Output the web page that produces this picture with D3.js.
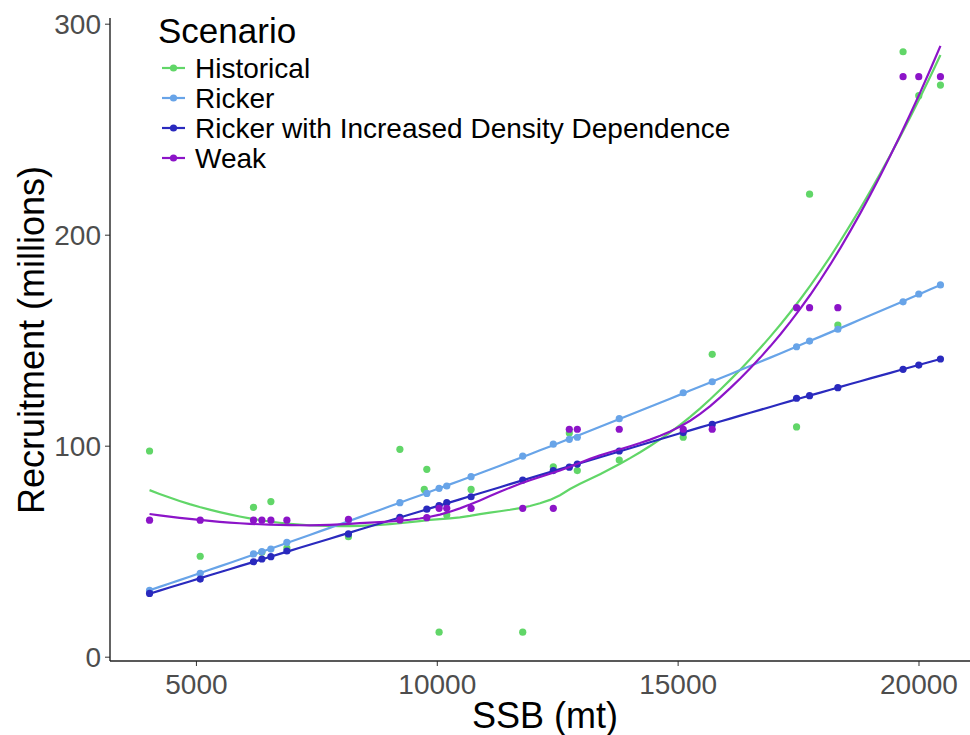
<!DOCTYPE html>
<html lang="en">
  <head>
    <meta charset="UTF-8" />
    <title>Recruitment vs SSB by Scenario</title>
    <script src="https://d3js.org/d3.v7.min.js"></script>
    <style>
      body {
        margin: 0;
        background: #ffffff;
      }
      text {
        font-family: 'Liberation Sans', Arial, sans-serif;
      }
      .tick text {
        fill: #4d4d4d;
        font-size: 28px;
      }
      .tick line {
        stroke: #333333;
      }
    </style>
  </head>
  <body>
    <div id="chart-container"></div>

    <script>
      // SSB values shared by the simulated scenarios
      const ssb = [
        4037, 5089, 6195, 6369, 6556, 6888, 8166, 9234, 9793, 10048,
        10207, 10712, 11784, 12419, 12751, 12917, 13788, 15116, 15718,
        17469, 17739, 18326, 19680, 20006, 20456,
      ];
      const ricker = [
        31.4, 39.5, 48.7, 49.8, 51.0, 54.2, 64.5, 73.0, 77.4, 79.8, 80.9,
        85.3, 95.1, 100.7, 103.0, 104.0, 112.8, 125.1, 130.3, 146.9, 149.6,
        155.2, 168.2, 171.9, 176.2,
      ];
      const rickerIDD = [
        30.0, 36.8, 45.0, 46.3, 47.4, 50.1, 58.2, 66.1, 69.9, 71.6, 73.0,
        75.8, 83.7, 88.2, 89.8, 91.3, 97.5, 106.2, 110.1, 122.5, 123.7,
        127.5, 136.2, 138.2, 141.1,
      ];
      const weak = [
        64.7, 64.7, 64.7, 64.7, 64.7, 64.7, 65.1, 64.8, 65.9, 70.3, 70.3,
        70.3, 70.3, 70.3, 107.8, 107.8, 107.8, 107.8, 107.8, 165.4, 165.4,
        165.4, 274.9, 274.9, 274.9,
      ];
      // observed (historical) pairs
      const histSsb = [
        4037, 5089, 6195, 6369, 6556, 6888, 8166, 9234, 9740, 9793, 10048,
        10207, 10712, 11784, 12419, 12751, 12917, 13788, 15116, 15718,
        17469, 17739, 18326, 19680, 20006, 20456,
      ];
      const historical = [
        97.5, 47.6, 70.8, 49.5, 73.5, 51.5, 56.9, 98.3, 79.3, 88.8, 11.6,
        67.2, 79.3, 11.6, 90.0, 106.0, 88.2, 93.2, 104.0, 143.3, 108.9,
        219.2, 157.2, 286.7, 265.9, 270.9,
      ];

      const scenarios = [
        'Historical',
        'Ricker',
        'Ricker with Increased Density Dependence',
        'Weak',
      ];
      const colors = ['#61d668', '#68a4e8', '#2a2abe', '#8c14c8'];
      const xTicks = [5000, 10000, 15000, 20000];
      const yTicks = [0, 100, 200, 300];

      const series = [
        { name: scenarios[0], x: histSsb, y: historical },
        { name: scenarios[1], x: ssb, y: ricker },
        { name: scenarios[2], x: ssb, y: rickerIDD },
        { name: scenarios[3], x: ssb, y: weak },
      ];

      // local quadratic fit at x0 (tricube weights), returns [value, slope]
      function localFit(xs, ys, q, x0) {
        const n = xs.length;
        const d = xs.map((x) => Math.abs(x - x0));
        const h = d.slice().sort((a, b) => a - b)[q - 1];
        let s = [0, 0, 0, 0, 0],
          t = [0, 0, 0];
        for (let i = 0; i < n; i++) {
          const r = d[i] / h;
          if (r >= 1) continue;
          const w = Math.pow(1 - r * r * r, 3);
          const u = (xs[i] - x0) / h;
          let p = w;
          for (let k = 0; k < 5; k++) {
            s[k] += p;
            if (k < 3) t[k] += p * ys[i];
            p *= u;
          }
        }
        const A = [
          [s[0], s[1], s[2], t[0]],
          [s[1], s[2], s[3], t[1]],
          [s[2], s[3], s[4], t[2]],
        ];
        for (let c = 0; c < 3; c++) {
          for (let r = c + 1; r < 3; r++) {
            const f = A[r][c] / A[c][c];
            for (let k = c; k < 4; k++) A[r][k] -= f * A[c][k];
          }
        }
        const b = [0, 0, 0];
        for (let r = 2; r >= 0; r--) {
          let v = A[r][3];
          for (let k = r + 1; k < 3; k++) v -= A[r][k] * b[k];
          b[r] = v / A[r][r];
        }
        return [b[0], b[1] / h];
      }

      // loess like R: kd cells + cubic Hermite interpolation between vertices
      function loessCurve(xs, ys, span, nOut) {
        const n = xs.length;
        const q = Math.floor(n * span);
        const fc = Math.floor(n * span * 0.2);
        const sx = xs.slice().sort((a, b) => a - b);
        const lo0 = sx[0],
          hi0 = sx[n - 1];
        const mu = 0.005 * (hi0 - lo0);
        const verts = [lo0 - mu, hi0 + mu];
        function split(l, u, a, b) {
          if (u - l + 1 <= fc) return;
          const m = Math.floor((l + u) / 2);
          const v = sx[m];
          if (v === a || v === b) return;
          verts.push(v);
          split(l, m, a, v);
          split(m + 1, u, v, b);
        }
        split(0, n - 1, verts[0], verts[1]);
        verts.sort((a, b) => a - b);
        const vals = verts.map((v) => localFit(xs, ys, q, v));
        return d3.range(nOut).map(function (k) {
          const z = lo0 + ((hi0 - lo0) * k) / (nOut - 1);
          let j = 0;
          while (j < verts.length - 2 && z > verts[j + 1]) j++;
          const x0 = verts[j],
            x1 = verts[j + 1];
          const hh = x1 - x0;
          const u = (z - x0) / hh;
          const phi0 = (1 - u) * (1 - u) * (1 + 2 * u);
          const phi1 = u * u * (3 - 2 * u);
          const psi0 = u * (1 - u) * (1 - u);
          const psi1 = -u * u * (1 - u);
          const yv =
            phi0 * vals[j][0] +
            phi1 * vals[j + 1][0] +
            (psi0 * vals[j][1] + psi1 * vals[j + 1][1]) * hh;
          return [z, yv];
        });
      }

      const svgWidth = 970;
      const svgHeight = 735;

      const svg = d3
        .select('#chart-container')
        .append('svg')
        .attr('width', svgWidth)
        .attr('height', svgHeight);

      const x = d3.scaleLinear().domain([3216, 21277]).range([110, 980]);
      const y = d3.scaleLinear().domain([0, 300]).range([656.7, 23.7]);

      // axes
      svg
        .append('g')
        .attr('transform', 'translate(0,661)')
        .call(
          d3
            .axisBottom(x)
            .tickValues(xTicks)
            .tickFormat(d3.format('d'))
            .tickSize(5)
            .tickSizeOuter(0)
            .tickPadding(4),
        )
        .call((g) => g.select('.domain').remove())
        .selectAll('text')
        .attr('dy', '0.85em');

      svg
        .append('g')
        .attr('transform', 'translate(110,0)')
        .call(
          d3
            .axisLeft(y)
            .tickValues(yTicks)
            .tickSize(5)
            .tickSizeOuter(0)
            .tickPadding(4),
        )
        .call((g) => g.select('.domain').remove())
        .selectAll('text')
        .attr('dy', '0.36em');

      svg
        .append('line')
        .attr('x1', 110)
        .attr('x2', 970)
        .attr('y1', 661)
        .attr('y2', 661)
        .attr('stroke', '#222')
        .attr('stroke-width', 1.4);
      svg
        .append('line')
        .attr('x1', 110)
        .attr('x2', 110)
        .attr('y1', 18)
        .attr('y2', 661)
        .attr('stroke', '#222')
        .attr('stroke-width', 1.4);

      // axis titles
      svg
        .append('text')
        .attr('x', 545)
        .attr('y', 728)
        .attr('text-anchor', 'middle')
        .style('font-size', '36px')
        .text('SSB (mt)');
      svg
        .append('text')
        .attr('transform', 'translate(44,340) rotate(-90)')
        .attr('text-anchor', 'middle')
        .style('font-size', '36px')
        .text('Recruitment (millions)');

      // points and smooth lines
      const line = d3
        .line()
        .x((d) => x(d[0]))
        .y((d) => y(d[1]));

      series.forEach(function (s, i) {
        const fit = loessCurve(s.x, s.y, 0.75, 80);

        svg
          .append('g')
          .selectAll('circle')
          .data(s.x.map((v, k) => [v, s.y[k]]))
          .enter()
          .append('circle')
          .attr('cx', (d) => x(d[0]))
          .attr('cy', (d) => y(d[1]))
          .attr('r', 3.6)
          .attr('fill', colors[i]);

        svg
          .append('path')
          .datum(fit)
          .attr('d', line)
          .attr('fill', 'none')
          .attr('stroke', colors[i])
          .attr('stroke-width', 2.2);
      });

      // legend
      const legend = svg.append('g').attr('transform', 'translate(158,0)');
      legend
        .append('text')
        .attr('x', 0)
        .attr('y', 43)
        .style('font-size', '35px')
        .text('Scenario');

      scenarios.forEach(function (name, i) {
        const cy = 68 + i * 30;
        legend
          .append('line')
          .attr('x1', 4)
          .attr('x2', 27)
          .attr('y1', cy)
          .attr('y2', cy)
          .attr('stroke', colors[i])
          .attr('stroke-width', 2.2);
        legend
          .append('circle')
          .attr('cx', 15.5)
          .attr('cy', cy)
          .attr('r', 3.6)
          .attr('fill', colors[i]);
        legend
          .append('text')
          .attr('x', 37)
          .attr('y', cy + 10)
          .style('font-size', '28px')
          .text(name);
      });
    </script>
  </body>
</html>
